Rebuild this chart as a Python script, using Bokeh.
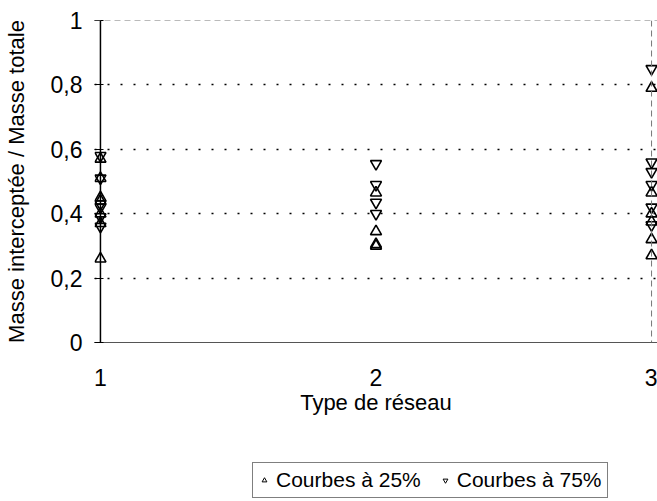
from bokeh.plotting import figure
from bokeh.layouts import column
from bokeh.models import Legend, LegendItem, FixedTicker, Span, ColumnDataSource
from bokeh.embed import file_html
from bokeh.resources import INLINE
import numpy as np

# Data
x_25 = [1, 1, 1, 1, 1, 1, 1,
        2, 2, 2, 2,
        3, 3, 3, 3, 3, 3]
y_25 = [0.57, 0.51, 0.45, 0.44, 0.40, 0.37, 0.26,
        0.465, 0.345, 0.30, 0.305,
        0.79, 0.465, 0.40, 0.375, 0.32, 0.27]

x_75 = [1, 1, 1, 1, 1, 1,
        2, 2, 2, 2,
        3, 3, 3, 3, 3, 3]
y_75 = [0.58, 0.51, 0.43, 0.42, 0.39, 0.36,
        0.555, 0.49, 0.435, 0.40,
        0.85, 0.56, 0.53, 0.49, 0.42, 0.365]

x_ticks = [1, 2, 3]
y_ticks = [0, 0.2, 0.4, 0.6, 0.8, 1]
y_tick_labels = ["0", "0,2", "0,4", "0,6", "0,8", "1"]
series_labels = ["Courbes à 25%", "Courbes à 75%"]

FONT = "Liberation Sans"

p = figure(width=657, height=437, x_range=(0.9784, 3.0216), y_range=(0, 1),
           output_backend="svg", toolbar_location=None,
           min_border_left=89, min_border_right=0, min_border_top=20,
           min_border_bottom=95)
p.background_fill_color = "white"
p.border_fill_color = "white"
p.outline_line_color = None

# axes
p.xaxis.ticker = FixedTicker(ticks=x_ticks)
p.yaxis.ticker = FixedTicker(ticks=y_ticks)
p.yaxis.major_label_overrides = {v: s for v, s in zip(y_ticks, y_tick_labels)}
p.xaxis.axis_label = "Type de réseau"
p.yaxis.axis_label = "Masse interceptée / Masse totale"
for ax in (p.xaxis, p.yaxis):
    ax.major_label_text_font = FONT
    ax.axis_label_text_font = FONT
    ax.major_label_text_color = "black"
    ax.axis_label_text_color = "black"
    ax.axis_label_text_font_style = "normal"
    ax.minor_tick_line_color = None
p.yaxis.major_label_text_font_size = "23px"
p.xaxis.major_label_text_font_size = "23px"
p.yaxis.axis_label_text_font_size = "22px"
p.xaxis.axis_label_text_font_size = "22px"
p.yaxis.axis_line_color = None
p.yaxis.major_tick_line_color = "black"
p.yaxis.major_tick_in = 9
p.yaxis.major_tick_out = 0
p.yaxis.major_label_standoff = 12
p.yaxis.axis_label_standoff = 19
p.xaxis.axis_line_color = "#555555"
p.xaxis.axis_line_width = 1
p.xaxis.major_tick_line_color = None
p.xaxis.major_tick_in = 0
p.xaxis.major_tick_out = 0
p.xaxis.major_label_standoff = 26
p.xaxis.axis_label_standoff = 1

# frame lines
p.add_layout(Span(location=1, dimension="height", line_color="black", line_width=1.5))
p.add_layout(Span(location=3, dimension="height", line_color="#777777",
                  line_width=1, line_dash="6 4"))
p.add_layout(Span(location=1, dimension="width", line_color="#777777",
                  line_width=1, line_dash="6 4"))

# grid
p.xgrid.grid_line_color = None
p.ygrid.ticker = FixedTicker(ticks=[0.2, 0.4, 0.6, 0.8])
p.ygrid.grid_line_color = "black"
p.ygrid.grid_line_dash = "2 11"
p.ygrid.grid_line_width = 1.5

src25 = ColumnDataSource(dict(x=x_25, y=y_25))
src75 = ColumnDataSource(dict(x=x_75, y=y_75))
p.scatter("x", "y", source=src25, marker="triangle", size=11,
          line_color="black", line_width=1.6, fill_color=None)
p.scatter("x", "y", source=src75, marker="inverted_triangle", size=11,
          line_color="black", line_width=1.6, fill_color=None)

# legend in a small figure below (legend-only proxy glyphs, no visible data)
lf = figure(width=657, height=64, x_axis_type=None, y_axis_type=None,
            x_range=(0, 1), y_range=(0, 1),
            output_backend="svg", toolbar_location=None,
            min_border_left=89, min_border_top=0, min_border_right=0,
            min_border_bottom=0)
lf.outline_line_color = None
lf.grid.grid_line_color = None
nan_src = dict(x=np.array([np.nan]), y=np.array([np.nan]))
l25 = lf.scatter("x", "y", source=ColumnDataSource(nan_src), marker="triangle",
                 size=8, line_color="black", line_width=1, fill_color=None)
l75 = lf.scatter("x", "y", source=ColumnDataSource(dict(nan_src)),
                 marker="inverted_triangle", size=8,
                 line_color="black", line_width=1, fill_color=None)

legend = Legend(items=[LegendItem(label=series_labels[0], renderers=[l25]),
                       LegendItem(label=series_labels[1], renderers=[l75])],
                orientation="horizontal", location=(158, 3))
legend.label_text_font = FONT
legend.label_text_font_size = "21px"
legend.label_text_color = "black"
legend.border_line_color = "black"
legend.border_line_width = 1.2
legend.background_fill_color = "white"
legend.background_fill_alpha = 1
legend.padding = 5
legend.spacing = 18
legend.glyph_width = 12
legend.label_standoff = 6
legend.margin = 0
lf.add_layout(legend, "center")

open("out.html", "w").write(file_html(column(p, lf), INLINE))
